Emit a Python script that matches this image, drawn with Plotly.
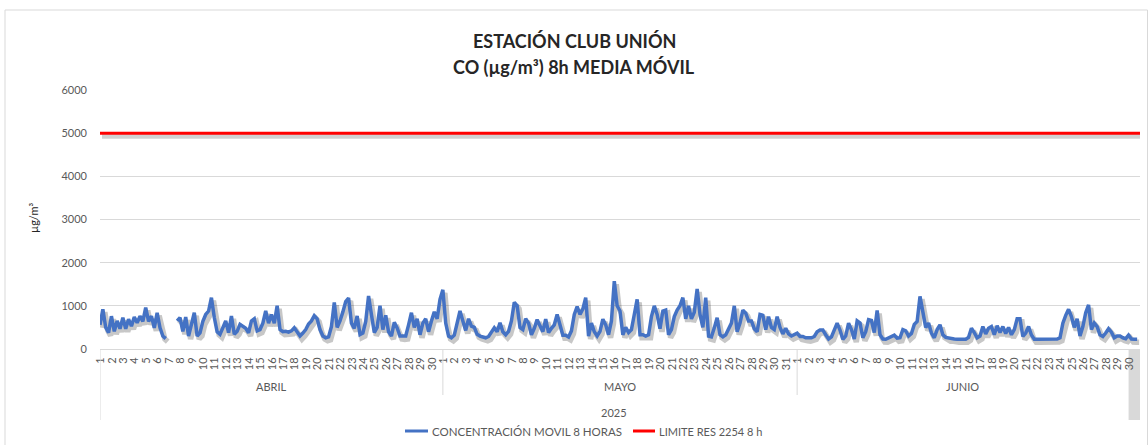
import plotly.graph_objects as go

# ---------------- data ----------------
MESES = ["ABRIL", "MAYO", "JUNIO"]
DIAS_POR_MES = [30, 31, 30]
ANIO = "2025"
HORAS = [0, 6, 12, 18]          # sampling hours within each day
LIMITE = 5000                   # RES 2254, 8 h

abril = [
    560, 920, 500, 380,   760, 410, 650, 470,   725, 470, 690, 530,   740, 610, 760, 640,
    960, 640, 760, 490,   840, 490, 300, 240,   None, None, None, 650, 725, 410, 740, 300,
    600, 840, 300, 375,   640, 800, 880, 1190,  730, 400, 340, 500,   650, 380, 765, 340,
    410, 570, 520, 480,   375, 650, 700, 420,   450, 600, 880, 600,   800, 600, 1000, 450,
    400, 410, 390, 420,   490, 380, 300, 370,   450, 580, 650, 770,   700, 450, 300, 260,
    280, 520, 1080, 500,  650, 860, 1100, 1180, 600, 480, 765, 335,   370, 640, 1230, 800,
    380, 500, 1000, 450,  780, 400, 300, 620,   490, 300, 290, 300,   560, 840, 500, 700,
    330, 600, 700, 400,   650, 860, 700, 1150,
]
mayo = [
    1370, 600, 300, 260,  320, 650, 880, 650,   430, 700, 530, 500,   340, 300, 280, 260,
    290, 410, 490, 400,   610, 400, 330, 410,   650, 1080, 1000, 500, 450, 700, 600, 330,
    480, 680, 560, 400,   690, 380, 480, 560,   800, 520, 320, 320,   280, 420, 800, 980,
    800, 930, 1190, 300,  600, 400, 300, 410,   690, 560, 330, 650,   1570, 1000, 880, 330,
    500, 380, 450, 800,   1150, 330, 330, 300,  330, 750, 1000, 800,  470, 880, 900, 330,
    450, 750, 900, 1000,  1190, 700, 1000, 700, 850, 1390, 800, 500,  1190, 300, 280, 490,
    725, 330, 280, 330,   450, 600, 1000, 400,  600, 900, 830, 650,   650, 470, 400, 800,
    780, 450, 750, 500,   450, 750, 500, 350,   480, 350, 300, 330,
]
junio = [
    365, 290, 290, 260,   250, 260, 290, 400,   440, 440, 330, 230,   280, 450, 600, 440,
    225, 300, 600, 450,   230, 650, 600, 260,   400, 680, 660, 380,   890, 330, 230, 225,
    250, 280, 320, 250,   260, 450, 420, 300,   360, 570, 640, 1220,  900, 500, 600, 370,
    260, 450, 560, 330,   270, 250, 250, 230,   225, 225, 225, 225,   270, 480, 380, 260,
    300, 520, 350, 480,   520, 330, 540, 380,   520, 360, 500, 330,   450, 700, 700, 290,
    370, 520, 325, 225,   225, 225, 225, 225,   225, 225, 230, 230,   260, 600, 780, 920,
    750, 500, 700, 300,   520, 840, 1020, 450,  600, 520, 330, 290,   370, 470, 390, 260,
    300, 300, 260, 240,   320, 230, 225, 225,
]

# ---------------- build series ----------------
conc = abril + mayo + junio
n_dias = sum(DIAS_POR_MES)
x = [d + h / 24 for d in range(n_dias) for h in HORAS]
x_lim = x + [n_dias]
y_lim = [LIMITE] * len(x_lim)

tick_vals, tick_text = [], []
bounds = []
start = 0
for m, nd in zip(MESES, DIAS_POR_MES):
    for k in range(nd):
        tick_vals.append(start + k + 0.05)
        tick_text.append(str(k + 1))
    bounds.append((start, start + nd))
    start += nd

FONT = "Lato, 'Open Sans', sans-serif"
GRAY = "#595959"
GRID = "#d9d9d9"
BLUE = "#4472C4"
RED = "#FF0000"

# plot-area geometry (px)
L, R, T, B = 100, 8, 90, 96
W, H = 1148, 445
PW, PH = W - L - R, H - T - B
def px_x(p):  # page px -> paper x
    return (p - L) / PW
def px_y(p):  # page px -> paper y
    return (H - B - p) / PH

# shadow offset (px -> data units)
dy = 3 * 6000 / PH
dx = 2 * n_dias / PW

fig = go.Figure()
# shadows (base axes, slightly shifted)
fig.add_trace(go.Scatter(x=x_lim, y=y_lim, mode="lines", xaxis="x", yaxis="y",
                         line=dict(color="rgba(0,0,0,0.18)", width=5),
                         hoverinfo="skip", showlegend=False))
fig.add_trace(go.Scatter(x=x, y=conc, mode="lines", xaxis="x", yaxis="y",
                         line=dict(color="rgba(0,0,0,0.22)", width=5.5),
                         connectgaps=False, hoverinfo="skip", showlegend=False))
# main series
fig.add_trace(go.Scatter(x=x_lim, y=y_lim, mode="lines", xaxis="x2", yaxis="y2",
                         name="LIMITE RES 2254 8 h",
                         line=dict(color=RED, width=3), showlegend=False))
fig.add_trace(go.Scatter(x=x, y=conc, mode="lines", xaxis="x2", yaxis="y2",
                         name="CONCENTRACIÓN MOVIL 8 HORAS",
                         line=dict(color=BLUE, width=3.5), connectgaps=False,
                         showlegend=False))

fig.update_layout(
    width=W, height=H,
    margin=dict(l=L, r=R, t=T, b=B),
    paper_bgcolor="white", plot_bgcolor="rgba(0,0,0,0)",
    font=dict(family=FONT, color=GRAY, size=11),
    showlegend=False,
    xaxis=dict(range=[-dx, n_dias - dx], visible=False, fixedrange=True),
    yaxis=dict(range=[dy, 6000 + dy], visible=False, fixedrange=True),
    xaxis2=dict(overlaying="x", anchor="y2", range=[0, n_dias],
                tickmode="array", tickvals=tick_vals, ticktext=tick_text,
                tickangle=-90, tickfont=dict(size=11, color=GRAY, family=FONT),
                showgrid=False, showline=True, linecolor=GRID, linewidth=1,
                ticks="", ticklabelstandoff=3, zeroline=False),
    yaxis2=dict(overlaying="y", anchor="x2", range=[0, 6000], dtick=1000,
                tick0=0, showgrid=True, gridcolor=GRID, gridwidth=1,
                showline=False, zeroline=False, ticks="",
                tickfont=dict(size=11, color=GRAY, family=FONT),
                ticklabelstandoff=12),
)

shapes = []
# chart-area border
shapes.append(dict(type="rect", xref="paper", yref="paper",
                   x0=px_x(5), x1=px_x(1147.5), y0=px_y(450), y1=px_y(10),
                   line=dict(color=GRID, width=1), fillcolor="rgba(0,0,0,0)", layer="below"))
# category separators
shapes.append(dict(type="line", xref="x2", yref="paper", x0=0, x1=0,
                   y0=0, y1=px_y(420), line=dict(color=GRID, width=1)))
for (s, e) in bounds[1:]:
    shapes.append(dict(type="line", xref="x2", yref="paper", x0=s, x1=s,
                       y0=0, y1=px_y(395), line=dict(color=GRID, width=1)))
# highlighted last category
shapes.append(dict(type="rect", xref="x2", yref="paper", x0=n_dias - 1, x1=n_dias,
                   y0=px_y(420), y1=0, fillcolor="#d9d9d9", line=dict(width=0), layer="below"))
# legend samples
shapes.append(dict(type="line", xref="paper", yref="paper", x0=px_x(405), x1=px_x(428),
                   y0=px_y(431), y1=px_y(431), line=dict(color=BLUE, width=3)))
shapes.append(dict(type="line", xref="paper", yref="paper", x0=px_x(633), x1=px_x(655),
                   y0=px_y(431), y1=px_y(431), line=dict(color=RED, width=3)))
fig.update_layout(shapes=shapes)

ann = []
ann.append(dict(text="<b>ESTACIÓN CLUB UNIÓN</b>", xref="paper", yref="paper",
                x=px_x(574), y=px_y(41), showarrow=False, xanchor="center", yanchor="middle",
                font=dict(size=18, color="#262626", family=FONT)))
ann.append(dict(text="<b>CO (µg/m³) 8h MEDIA MÓVIL</b>", xref="paper", yref="paper",
                x=px_x(574), y=px_y(67), showarrow=False, xanchor="center", yanchor="middle",
                font=dict(size=18, color="#262626", family=FONT)))
ann.append(dict(text="µg/m³", xref="paper", yref="paper", x=px_x(33), y=px_y(218),
                textangle=-90, showarrow=False, xanchor="center", yanchor="middle",
                font=dict(size=11, color="#262626", family=FONT)))
# month labels
for m, (s, e) in zip(MESES, bounds):
    e_lab = e if e < n_dias else e - 1
    ann.append(dict(text=m, xref="x2", yref="paper", x=(s + e_lab) / 2, y=px_y(386),
                    showarrow=False, xanchor="center", yanchor="middle",
                    font=dict(size=11, color=GRAY, family=FONT)))
ann.append(dict(text=ANIO, xref="x2", yref="paper", x=(n_dias - 1) / 2, y=px_y(412),
                showarrow=False, xanchor="center", yanchor="middle",
                font=dict(size=11, color=GRAY, family=FONT)))
# legend texts
ann.append(dict(text="CONCENTRACIÓN MOVIL 8 HORAS", xref="paper", yref="paper",
                x=px_x(430), y=px_y(431), showarrow=False, xanchor="left", yanchor="middle",
                font=dict(size=11.5, color=GRAY, family=FONT)))
ann.append(dict(text="LIMITE RES 2254 8 h", xref="paper", yref="paper",
                x=px_x(657), y=px_y(431), showarrow=False, xanchor="left", yanchor="middle",
                font=dict(size=11, color=GRAY, family=FONT)))
fig.update_layout(annotations=ann)

fig.write_html("out.html", config={"displayModeBar": False},
               post_script="document.body.style.margin='0';document.body.style.overflow='hidden';")
